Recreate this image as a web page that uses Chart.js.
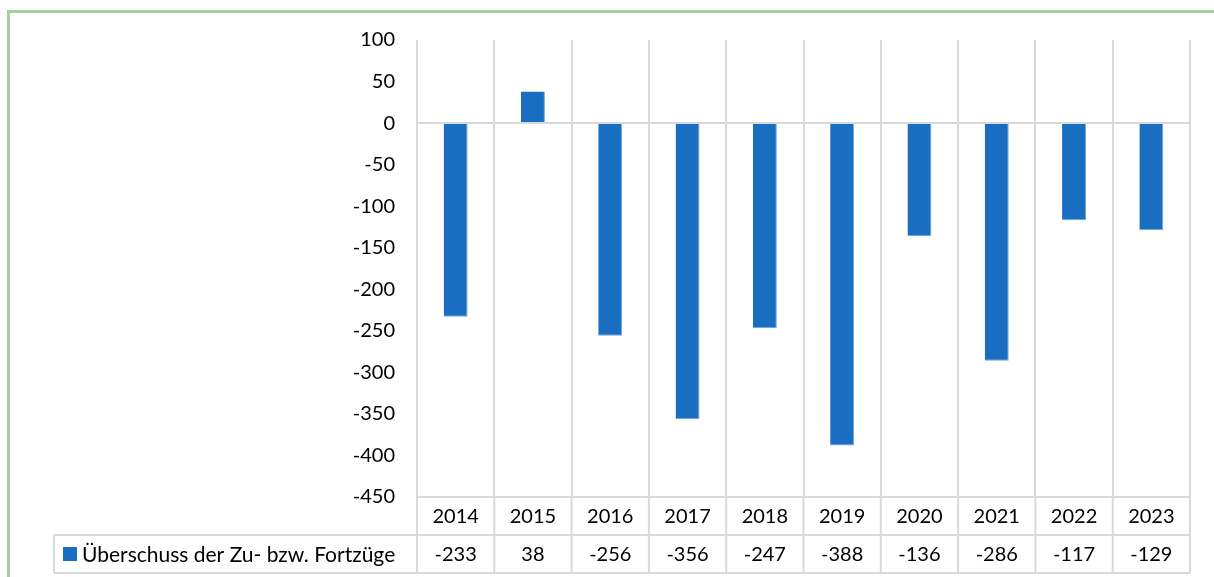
<!DOCTYPE html>
<html>
<head>
<meta charset="utf-8">
<script src="https://cdn.jsdelivr.net/npm/chart.js@4/dist/chart.umd.min.js"></script>
<style>
  html, body { margin: 0; padding: 0; background: #fff; overflow: hidden; }
  #frame { position: absolute; left: 7px; top: 10px; width: 1400px; height: 800px; border: 3px solid #9fd29b; box-sizing: border-box; }
  #wrap { position: absolute; left: 0; top: 0; width: 1214px; height: 577px; }
</style>
</head>
<body>
<div id="frame"></div>
<div id="wrap"><canvas id="chart" width="1214" height="577"></canvas></div>
<script>
const years = ['2014', '2015', '2016', '2017', '2018', '2019', '2020', '2021', '2022', '2023'];
const surplus = [-233, 38, -256, -356, -247, -388, -136, -286, -117, -129];
const seriesName = 'Überschuss der Zu- bzw. Fortzüge';
const yMin = -450;
const yMax = 100;
const yStep = 50;

const FONT = 'Lato, Calibri, "Open Sans", sans-serif';
const GRID = '#d9d9d9';
const BAR = '#1a6ec2';

// Datentabelle unter dem Diagramm (wie in Excel)
const dataTable = {
  id: 'dataTable',
  afterDraw(chart) {
    const { ctx, chartArea, scales: { x } } = chart;
    const half = (x.getPixelForValue(1) - x.getPixelForValue(0)) / 2;
    const top = chartArea.bottom;
    const mid = top + 38;
    const bottom = mid + 38;
    const legendLeft = 54;

    ctx.save();
    ctx.strokeStyle = GRID;
    ctx.lineWidth = 2;
    ctx.beginPath();
    ctx.moveTo(chartArea.left, top);
    ctx.lineTo(chartArea.right, top);
    ctx.moveTo(legendLeft, mid);
    ctx.lineTo(chartArea.right, mid);
    ctx.moveTo(legendLeft, bottom);
    ctx.lineTo(chartArea.right, bottom);
    ctx.moveTo(legendLeft, mid);
    ctx.lineTo(legendLeft, bottom);
    for (let i = 0; i <= years.length; i++) {
      const px = x.getPixelForValue(i) - half;
      ctx.moveTo(px, top);
      ctx.lineTo(px, bottom);
    }
    ctx.stroke();

    ctx.fillStyle = '#000';
    ctx.font = '20px ' + FONT;
    ctx.textAlign = 'center';
    ctx.textBaseline = 'middle';
    years.forEach((yr, i) => {
      const px = x.getPixelForValue(i);
      ctx.fillText(yr, px, (top + mid) / 2 + 1);
      ctx.fillText(String(surplus[i]), px, (mid + bottom) / 2 + 1);
    });

    ctx.fillStyle = BAR;
    ctx.fillRect(63, 547, 14, 14);
    ctx.fillStyle = '#000';
    ctx.textAlign = 'left';
    ctx.font = '21px ' + FONT;
    ctx.fillText(seriesName, 82, (mid + bottom) / 2 + 1);
    ctx.restore();
  }
};

new Chart(document.getElementById('chart'), {
  type: 'bar',
  data: {
    labels: years,
    datasets: [{
      label: seriesName,
      data: surplus,
      backgroundColor: BAR,
      borderColor: '#6fa8dc',
      borderWidth: { left: 0, top: 0, right: 1, bottom: 1 },
      categoryPercentage: 1,
      barPercentage: 0.31
    }]
  },
  options: {
    responsive: false,
    animation: false,
    layout: { padding: { top: 40, right: 24, bottom: 80, left: 0 } },
    plugins: {
      legend: { display: false },
      tooltip: { enabled: false }
    },
    scales: {
      x: {
        offset: true,
        ticks: { display: false },
        border: { display: false },
        grid: { offset: true, color: GRID, lineWidth: 2, drawTicks: false },
        afterFit(scale) { scale.height = 0; }
      },
      y: {
        min: yMin,
        max: yMax,
        ticks: { stepSize: yStep, padding: 22, color: '#000', font: { family: FONT, size: 20 } },
        border: { display: false },
        grid: {
          drawTicks: false,
          lineWidth: 2,
          color: c => (c.tick && c.tick.value === 0 ? GRID : 'rgba(0,0,0,0)')
        },
        afterFit(scale) { scale.width = 417; }
      }
    }
  },
  plugins: [dataTable]
});
</script>
</body>
</html>
